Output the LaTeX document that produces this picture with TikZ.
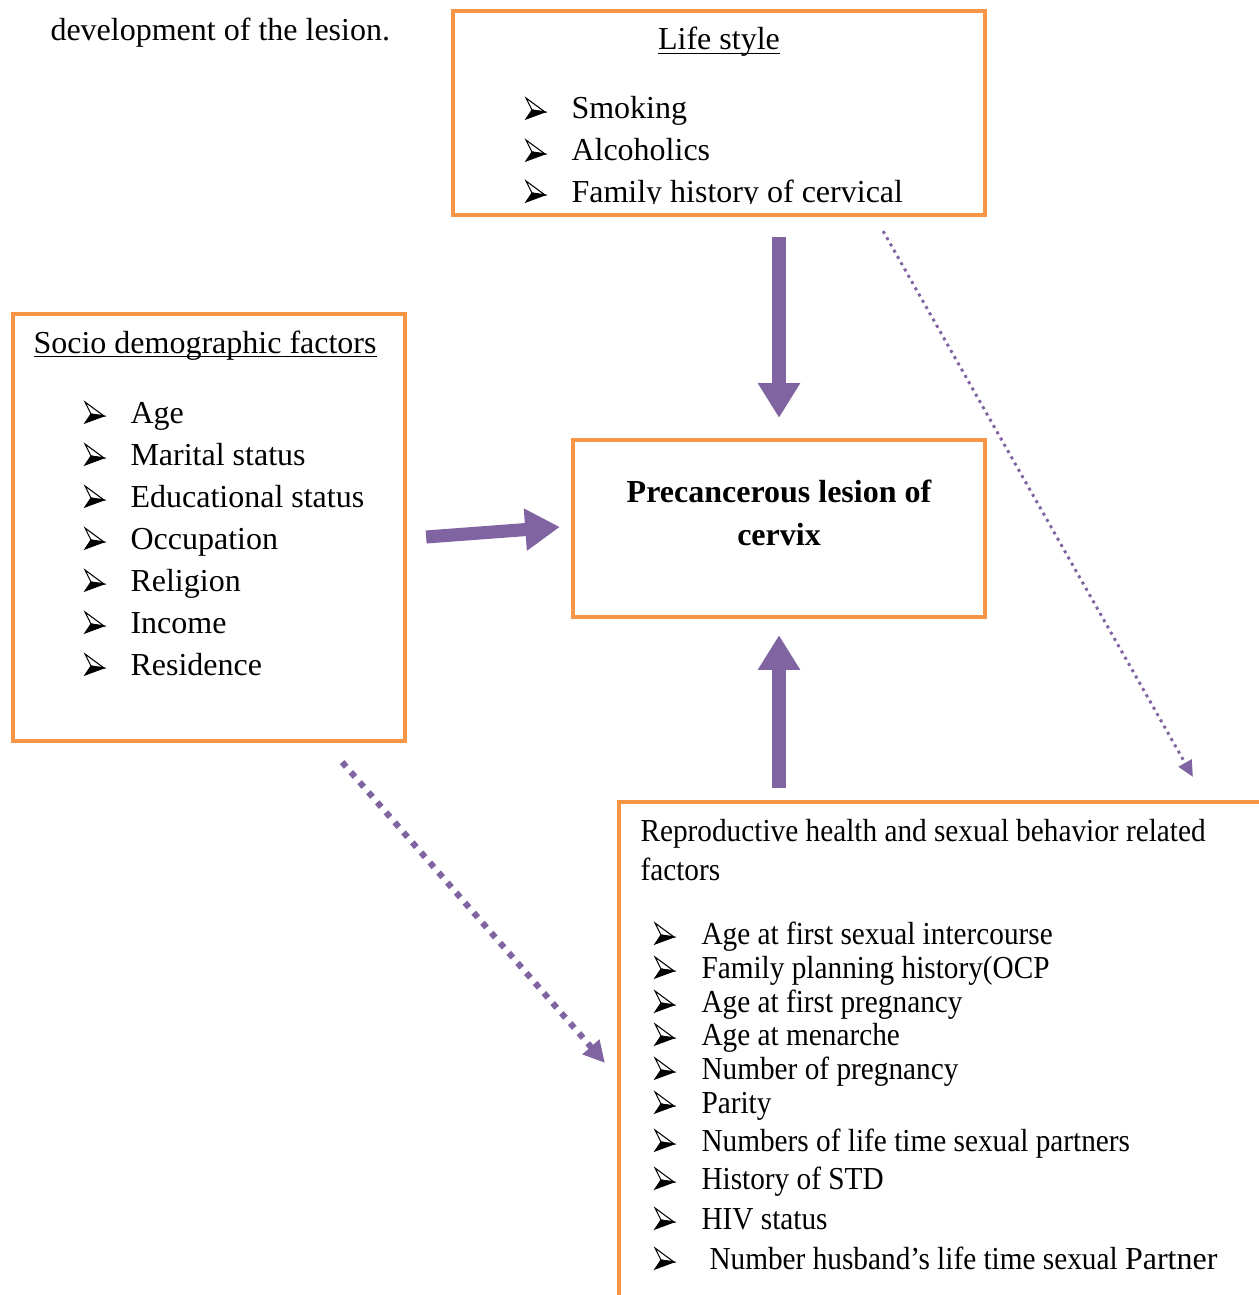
\documentclass[tikz,border=0pt]{standalone}
\usepackage{fontspec}
\setmainfont{Liberation Serif}
\newfontfamily\narrowserif[FakeStretch=0.915]{Liberation Serif}
\usepackage{xcolor}
\usetikzlibrary{arrows.meta, positioning, calc}
\definecolor{boxorange}{HTML}{F79646}
\definecolor{linkpurple}{HTML}{8064A2}
\tikzstyle{factorbox} = [rectangle, draw=boxorange, line width=1.6pt, inner sep=0pt]
\tikzstyle{itemtext} = [anchor=base west, inner sep=0pt]
\tikzstyle{reprotext} = [itemtext, font=\narrowserif\fontsize{12pt}{14pt}\selectfont]
\tikzstyle{bigarrow} = [draw=linkpurple, line width=4.9pt, -{Triangle[width=15pt,length=13pt]}]
\tikzstyle{thinlink} = [draw=linkpurple, line width=1.1pt, dash pattern=on 1.1pt off 1.6pt, -{Triangle[width=5.5pt,length=6pt]}]
\tikzstyle{thicklink} = [draw=linkpurple, line width=2.3pt, dash pattern=on 2.3pt off 2.7pt, -{Triangle[width=8pt,length=8pt]}]
% arrowhead list marker, drawn from its lower left corner on the baseline
\tikzset{listmark/.pic={
    \filldraw[fill=white, draw=black, line width=0.4pt, line join=miter] (0,-21) -- (19,-7) -- (6,-9) -- cycle;
    \filldraw[fill=black, draw=black, line width=0.4pt, line join=miter] (0,0) -- (19,-7) -- (6,-9) -- cycle;
}}

\begin{document}
\begin{tikzpicture}[x=0.375pt, y=-0.375pt, font=\fontsize{12pt}{14pt}\selectfont]
    \useasboundingbox (0,0) rectangle (1258,1295);

    % Text left over above the figure
    \node[itemtext] (lead) at (50,41) {development of the lesion.};

    % Boxes
    \node[factorbox, minimum width=199.5pt, minimum height=76.5pt] (life) at (719,113) {};
    \node[factorbox, minimum width=147pt, minimum height=160.1pt] (socio) at (209,527.5) {};
    \node[factorbox, minimum width=154.5pt, minimum height=66.4pt] (pre) at (779,528.5) {};
    \node[factorbox, minimum width=244.1pt, minimum height=190.5pt] (repro) at (944.5,1056) {};

    % Life style
    \node[anchor=base, inner sep=0pt] (lifetitle) at (719,50) {\underbar{Life style}};
    \begin{scope}
        \clip (455,13) rectangle (983,203);
        \foreach \ypos/\entry [count=\i] in {119/Smoking, 161/Alcoholics, 202/Family history of cervical} {
            \pic at (526,\ypos) {listmark};
            \node[itemtext] (li\i) at (571,\ypos) {\entry};
        }
    \end{scope}

    % Socio demographic factors
    \node[itemtext] (sociotitle) at (33,353) {\underbar{Socio demographic factors}};
    \foreach \entry [count=\i] in {Age, Marital status, Educational status, Occupation, Religion, Income, Residence} {
        \pic at (85,381+42*\i) {listmark};
        \node[itemtext] (si\i) at (130,381+42*\i) {\entry};
    }

    % Outcome
    \node[align=center, font=\bfseries\fontsize{12pt}{16pt}\selectfont, anchor=base] (pretext) at (779,545) {Precancerous lesion of\\cervix};

    % Reproductive health
    \node[reprotext] (reprotitle) at (640,841) {Reproductive health and sexual behavior related};
    \node[reprotext] (reprotitleb) at (640,880) {factors};
    \foreach \ypos/\xpos/\entry [count=\i] in {944/701/Age at first sexual intercourse, 978/701/Family planning history(OCP, 1012/701/Age at first pregnancy, 1045/701/Age at menarche, 1079/701/Number of pregnancy, 1113/701/Parity, 1151/701/Numbers of life time sexual partners, 1189/701/History of STD, 1229/701/HIV status, 1269/709/Number husband’s life time sexual {\rmfamily Partner}} {
        \pic at (655,\ypos) {listmark};
        \node[reprotext] (ri\i) at (\xpos,\ypos) {\entry};
    }

    % Arrows
    \draw[bigarrow, shorten <=7.5pt, shorten >=7.5pt] (pre.north |- life.south) -- (pre.north);
    \draw[bigarrow, shorten <=4.5pt, shorten >=6pt] (pre.south |- repro.north) -- (pre.south);
    \draw[bigarrow] ($(socio.east)+(19,9.5)$) -- ($(pre.west)+(-11,-1.5)$);
    \draw[thinlink] ($(life.south east)+(-104,14)$) -- ($(repro.north west)+(576,-23)$);
    \draw[thicklink] ($(socio.south east)+(-65,19)$) -- ($(repro.north west)+(-12,263)$);

\end{tikzpicture}
\end{document}
